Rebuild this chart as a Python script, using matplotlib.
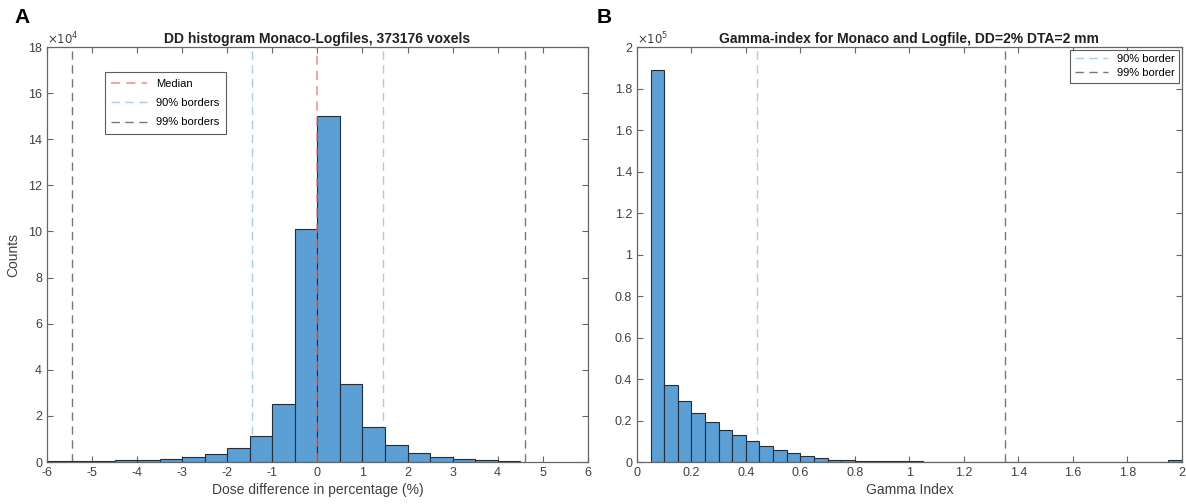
import numpy as np
import matplotlib
matplotlib.use('Agg')
from matplotlib import pyplot as plt

plt.rcParams['font.family'] = ['Liberation Sans', 'DejaVu Sans']
plt.rcParams['xtick.direction'] = 'in'
plt.rcParams['ytick.direction'] = 'in'
plt.rcParams['axes.unicode_minus'] = False

# dose difference histogram (counts x 1e4), bins of 0.5 %
dd_edges = np.arange(-6.0, 4.5, 0.5)
dd_counts = [0.05, 0.05, 0.05, 0.1, 0.1, 0.15, 0.2, 0.35, 0.6, 1.15, 2.5,
             10.1, 15.0, 3.4, 1.5, 0.75, 0.4, 0.22, 0.15, 0.08, 0.05]
dd_median = 0.0
dd_90 = [-1.45, 1.45]
dd_99 = [-5.45, 4.6]

# gamma index histogram (counts x 1e5), bins of 0.05
gi_edges = np.arange(0.05, 2.0, 0.05)
gi_counts = [1.89, 0.37, 0.295, 0.235, 0.195, 0.155, 0.13, 0.10, 0.078, 0.057,
             0.042, 0.028, 0.018, 0.012, 0.008, 0.006, 0.005, 0.004, 0.003, 0.003,
             0.002, 0.0, 0.0, 0.0, 0.0, 0.0, 0.0, 0.0, 0.0, 0.0, 0.0, 0.0, 0.0,
             0.0, 0.0, 0.0, 0.0, 0.0, 0.012]
gi_90 = 0.44
gi_99 = 1.35

bar_col = '#5b9fd5'
red = '#ec6f66'
lblue = '#a8cde8'
gray = '#777777'
axcol = '#666666'
txtcol = '#404040'
dash = (0, (6, 4))


def style(ax):
    for s in ax.spines.values():
        s.set_color(axcol)
        s.set_linewidth(0.9)
    ax.tick_params(colors=axcol, labelcolor=txtcol, labelsize=9,
                   top=True, right=True, length=4, width=0.8)


fig = plt.figure(figsize=(11.86, 5.04), dpi=100)
ax1 = fig.add_axes([0.0396, 0.0833, 0.456, 0.8234])
ax2 = fig.add_axes([0.537, 0.0833, 0.4595, 0.8234])

# A
n = len(dd_counts)
ax1.bar(dd_edges[:n], dd_counts, width=0.5, align='edge', color=bar_col,
        edgecolor='#1f2f3f', linewidth=0.8, zorder=2)
ax1.axvline(dd_median, color=red, ls=dash, lw=1.1, alpha=0.8, label='Median', zorder=3)
ax1.axvline(dd_90[0], color=lblue, ls=dash, lw=1, label='90% borders', zorder=1)
ax1.axvline(dd_90[1], color=lblue, ls=dash, lw=1, zorder=1)
ax1.axvline(dd_99[0], color=gray, ls=dash, lw=1, label='99% borders', zorder=1)
ax1.axvline(dd_99[1], color=gray, ls=dash, lw=1, zorder=1)
ax1.set_xlim(-6, 6)
ax1.set_ylim(0, 18)
ax1.set_xticks(range(-6, 7))
ax1.set_yticks(range(0, 19, 2))
style(ax1)
ax1.set_xlabel('Dose difference in percentage (%)', fontsize=10, color=txtcol, labelpad=3)
ax1.set_ylabel('Counts', fontsize=10, color=txtcol, labelpad=6)
ax1.set_title('DD histogram Monaco-Logfiles, 373176 voxels', fontsize=10,
              fontweight='bold', color='#202020', pad=3)
ax1.text(0.0, 1.0, r'$\times10^4$', transform=ax1.transAxes, fontsize=8.5,
         color=txtcol, ha='left', va='bottom')
leg = ax1.legend(loc='upper left', bbox_to_anchor=(0.107, 0.94), fontsize=8,
                 frameon=True, fancybox=False, handlelength=3.2, borderpad=0.6,
                 labelspacing=0.85, borderaxespad=0)
leg.get_frame().set_edgecolor('#333333')
leg.get_frame().set_linewidth(0.8)

# B
m = len(gi_counts)
ax2.bar(gi_edges[:m], gi_counts, width=0.05, align='edge', color=bar_col,
        edgecolor='#1f2f3f', linewidth=0.8, zorder=2)
ax2.axvline(gi_90, color=lblue, ls=dash, lw=1, label='90% border', zorder=1)
ax2.axvline(gi_99, color=gray, ls=dash, lw=1, label='99% border', zorder=1)
ax2.set_xlim(0, 2)
ax2.set_ylim(0, 2)
ticks = np.arange(0, 2.01, 0.2)
tlabels = ['0', '0.2', '0.4', '0.6', '0.8', '1', '1.2', '1.4', '1.6', '1.8', '2']
ax2.set_xticks(ticks)
ax2.set_xticklabels(tlabels)
ax2.set_yticks(ticks)
ax2.set_yticklabels(tlabels)
style(ax2)
ax2.set_xlabel('Gamma Index', fontsize=10, color=txtcol, labelpad=3)
ax2.set_title('Gamma-index for Monaco and Logfile, DD=2% DTA=2 mm', fontsize=10,
              fontweight='bold', color='#202020', pad=3)
ax2.text(0.0, 1.0, r'$\times10^5$', transform=ax2.transAxes, fontsize=8.5,
         color=txtcol, ha='left', va='bottom')
leg2 = ax2.legend(loc='upper right', bbox_to_anchor=(0.995, 0.993), fontsize=8,
                  frameon=True, fancybox=False, handlelength=3, borderpad=0.4,
                  labelspacing=0.35, borderaxespad=0)
leg2.get_frame().set_edgecolor('#333333')
leg2.get_frame().set_linewidth(0.8)

fig.text(0.012, 0.955, 'A', fontsize=15, fontweight='bold')
fig.text(0.503, 0.955, 'B', fontsize=15, fontweight='bold')

plt.savefig('out.png', dpi=100)
